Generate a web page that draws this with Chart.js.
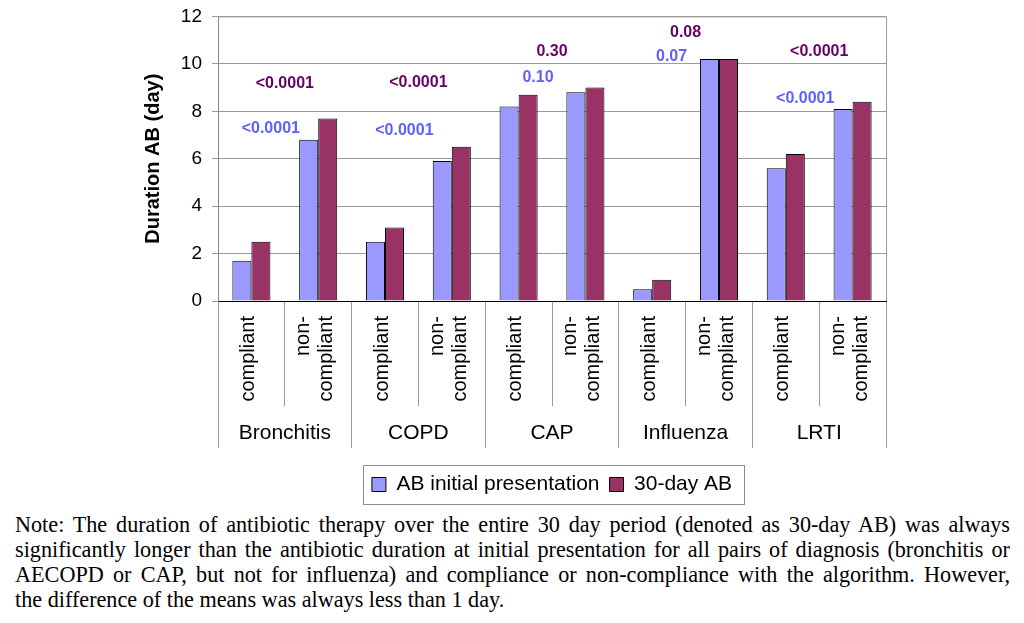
<!DOCTYPE html>
<html>
<head>
<meta charset="utf-8">
<script src="https://cdn.jsdelivr.net/npm/chart.js@4.4.1/dist/chart.umd.min.js"></script>
<style>
  body { margin: 0; background: #fff; }
  #contenedor { position: relative; width: 1024px; height: 515px; margin-top: -5px; }
  .nota { font-family: "Liberation Serif", "Times New Roman", serif; font-size: 22.2px; line-height: 25px; color: #000; margin: 2px 14px 0 15px; }
  .nota div { text-align: justify; text-align-last: justify; }
  .nota div.ultima { text-align-last: left; }
</style>
</head>
<body>
<div id="contenedor"><canvas id="grafico"></canvas></div>
<div class="nota">
  <div>Note: The duration of antibiotic therapy over the entire 30 day period (denoted as 30-day AB) was always</div>
  <div>significantly longer than the antibiotic duration at initial presentation for all pairs of diagnosis (bronchitis or</div>
  <div>AECOPD or CAP, but not for influenza) and compliance or non-compliance with the algorithm. However,</div>
  <div class="ultima">the difference of the means was always less than 1 day.</div>
</div>
<script>
const etiquetasX = [
  ['compliant'], ['non-', 'compliant'],
  ['compliant'], ['non-', 'compliant'],
  ['compliant'], ['non-', 'compliant'],
  ['compliant'], ['non-', 'compliant'],
  ['compliant'], ['non-', 'compliant']
];
const grupos = ['Bronchitis', 'COPD', 'CAP', 'Influenza', 'LRTI'];

const abInicial = [1.7, 6.8, 2.5, 5.9, 8.2, 8.8, 0.5, 10.2, 5.6, 8.1];
const ab30dias = [2.5, 7.7, 3.1, 6.5, 8.7, 9.0, 0.9, 10.2, 6.2, 8.4];

// p-values written above each diagnosis, with the height (in days) where they sit
const pInicial = ['<0.0001', '<0.0001', '0.10', '0.07', '<0.0001'];
const pInicialY = [7.25, 7.2, 9.4, 10.3, 8.55];
const p30dias = ['<0.0001', '<0.0001', '0.30', '0.08', '<0.0001'];
const p30diasY = [9.15, 9.2, 10.5, 11.3, 10.5];

const ticksY = [0, 2, 4, 6, 8, 10, 12];

const AZUL = '#9999ff';
const MORADO = '#993366';
const GRIS = '#9a9a9a';
const FUENTE = '"Liberation Sans", Arial, sans-serif';

const valoresP = {
  id: 'valoresP',
  afterDatasetsDraw(chart) {
    const { ctx, scales: { x, y } } = chart;
    ctx.save();
    ctx.font = `bold 16px ${FUENTE}`;
    ctx.textAlign = 'center';
    ctx.textBaseline = 'middle';
    grupos.forEach((g, i) => {
      const cx = (x.getPixelForValue(2 * i) + x.getPixelForValue(2 * i + 1)) / 2;
      ctx.fillStyle = '#5f5fff';
      ctx.fillText(pInicial[i], cx - 14, y.getPixelForValue(pInicialY[i]));
      ctx.fillStyle = '#660066';
      ctx.fillText(p30dias[i], cx, y.getPixelForValue(p30diasY[i]));
    });
    ctx.restore();
  }
};

const marcoYEtiquetas = {
  id: 'marcoYEtiquetas',
  beforeDatasetsDraw(chart) {
    const { ctx, chartArea: a } = chart;
    ctx.save();
    ctx.strokeStyle = GRIS;
    ctx.lineWidth = 1;
    ctx.beginPath();
    ctx.moveTo(a.left, a.top + 0.5);
    ctx.lineTo(a.right + 0.5, a.top + 0.5);
    ctx.lineTo(a.right + 0.5, a.bottom);
    ctx.stroke();
    ctx.restore();
  },
  afterDraw(chart) {
    const { ctx, scales: { x } } = chart;
    ctx.save();
    ctx.font = `20px ${FUENTE}`;
    ctx.fillStyle = '#000';
    ctx.textAlign = 'right';
    ctx.textBaseline = 'middle';
    const alto = 23;
    etiquetasX.forEach((lineas, i) => {
      const cx = x.getPixelForTick(i) - 3;
      lineas.forEach((linea, j) => {
        ctx.save();
        ctx.translate(cx + (j - (lineas.length - 1) / 2) * alto, x.top + 15);
        ctx.rotate(-Math.PI / 2);
        ctx.fillText(linea, 0, 0);
        ctx.restore();
      });
    });

    // caja de la leyenda
    const cajas = chart.legend.legendHitBoxes;
    if (cajas && cajas.length) {
      const izq = Math.min(...cajas.map(c => c.left)) - 9;
      const der = Math.max(...cajas.map(c => c.left + c.width)) + 12;
      const arriba = Math.min(...cajas.map(c => c.top)) - 9;
      const abajo = Math.max(...cajas.map(c => c.top + c.height)) + 9;
      ctx.strokeStyle = '#8c8c8c';
      ctx.lineWidth = 1;
      ctx.strokeRect(Math.round(izq) + 0.5, Math.round(arriba) + 0.5, Math.round(der - izq), Math.round(abajo - arriba));
    }
    ctx.restore();
  }
};

const ctx = document.getElementById('grafico').getContext('2d');

const data = {
  labels: etiquetasX.map(l => l.join(' ')),
  datasets: [
    {
      label: 'AB initial presentation',
      data: abInicial,
      backgroundColor: AZUL,
      borderColor: '#000',
      borderWidth: 1,
      xAxisID: 'x',
      yAxisID: 'y'
    },
    {
      label: '30-day AB',
      data: ab30dias,
      backgroundColor: MORADO,
      borderColor: '#000',
      borderWidth: 1,
      xAxisID: 'x',
      yAxisID: 'y'
    }
  ]
};

const config = {
  type: 'bar',
  data,
  options: {
    responsive: true,
    maintainAspectRatio: false,
    animation: false,
    categoryPercentage: 0.57,
    barPercentage: 1.0,
    layout: { padding: { left: 137, right: 138, top: 10, bottom: 5 } },
    plugins: {
      tooltip: { enabled: false },
      legend: {
        position: 'bottom',
        fullSize: false,
        labels: {
          boxWidth: 14,
          boxHeight: 14,
          padding: 10,
          color: '#000',
          font: { family: FUENTE, size: 21 }
        }
      }
    },
    scales: {
      x: {
        weight: 0,
        offset: true,
        grid: { offset: true, drawOnChartArea: false, drawTicks: true, tickLength: 105, color: GRIS },
        border: { display: true, color: '#000', width: 1 },
        ticks: { display: false },
        afterFit: (s) => { s.height = 105; }
      },
      x2: {
        type: 'category',
        position: 'bottom',
        weight: 1,
        labels: grupos,
        offset: true,
        grid: { offset: true, drawOnChartArea: false, drawTicks: true, tickLength: 42, color: GRIS },
        border: { display: false },
        ticks: {
          autoSkip: false,
          maxRotation: 0,
          minRotation: 0,
          padding: -27,
          color: '#000',
          font: { family: FUENTE, size: 21 }
        },
        afterFit: (s) => { s.height = 58; }
      },
      y: {
        min: 0,
        max: 12,
        afterBuildTicks: (s) => { s.ticks = ticksY.map(v => ({ value: v })); },
        grid: { color: GRIS, tickLength: 6 },
        border: { color: '#888' },
        ticks: { padding: 10, color: '#000', font: { family: FUENTE, size: 19 } },
        title: {
          display: true,
          text: 'Duration AB (day)',
          color: '#000',
          font: { family: FUENTE, size: 20, weight: 'bold' },
          padding: { top: 4, bottom: 0 }
        },
        afterFit: (s) => { s.width = 81; }
      }
    }
  },
  plugins: [marcoYEtiquetas, valoresP]
};

const miGrafico = new Chart(ctx, config);
</script>
</body>
</html>
